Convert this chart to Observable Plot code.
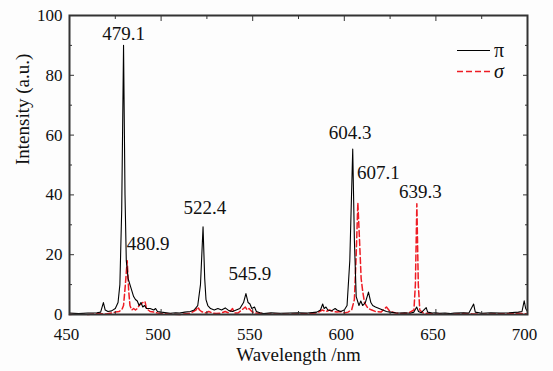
<!DOCTYPE html>
<html>
<head>
<meta charset="utf-8">
<script src="https://cdn.jsdelivr.net/npm/d3@7"></script>
<script src="https://cdn.jsdelivr.net/npm/@observablehq/plot@0.6"></script>
<style>
  html, body { margin: 0; padding: 0; background: #fdfdfd; }
  #wrap { position: relative; width: 553px; height: 371px; font-family: "Liberation Serif", "Times New Roman", Times, serif; }
  #legend { position: absolute; left: 450px; top: 38px; }
</style>
</head>
<body>
<div id="wrap"></div>
<script>
// π spectrum (wavelength nm, intensity a.u.)
const piWave = [450,455,460,465,467,468.5,469.5,471,473,475,476.5,477.5,478.5,479.5,480.3,481,482,483,484,485,486,487,488,489,490,491,492,494,496,497,498,500,503,505,508,510,513,516,518,520,521.5,522.9,523.8,524.5,525.5,527,529,531,533,535,537,539,541,543,545,546.3,547.5,548.5,549.5,551,552,554,556,560,565,570,575,580,585,587,588.2,589,590,591,593,595,596,598,600,601.5,603,604.6,605.5,606.5,608,609,610,611.5,613.2,614.5,615.5,617,619,621,623,625,628,630,633,636,638,639.5,640.5,642,644.7,645.5,648,650,652,655,658,660,665,668,670.6,671.5,675,680,685,690,695,697,698.2,699,700];
const piInt  = [0.5,0.3,0.5,0.6,0.8,4,1.5,1,1.2,2,4,10,35,90,40,18,12,10,8,6,5,4.5,3,4,2.5,3,2,2,1.5,2,1,0.8,0.6,0.4,0.6,0.5,0.8,1,1.5,3,10,29.3,12,5,3,2,1.5,2,1.5,2.2,1.3,1,1.5,2,4,7,4,3.5,2,2.5,1,0.6,0.3,0.6,0.4,0.5,0.6,0.5,0.8,1.5,3.5,2,2.5,1.5,1.2,2,1.5,1,1.5,3,18,55.3,25,6,3,4.5,3,4,7.5,4,3,2.5,2,1.5,1,0.8,0.6,0.5,0.6,0.4,0.8,2.5,1,0.6,2.3,0.8,0.5,0.6,0.4,0.5,0.3,0.5,0.6,0.5,3.5,0.8,0.4,0.6,0.5,0.6,0.8,1,4.6,2,1];

// σ spectrum
const sigWave = [450,455,460,465,470,473,475,477,478.5,479.5,480.5,481.5,482.3,483,484,485,486,487,488,489,490,491.2,492,493,494,496,498,500,505,510,515,517,519,520,521,522,524,526,528,530,533,535,537,539,540,542,544,546,547,548,549.5,551,555,560,570,580,585,588,590,592,594,596,598,600,602,604,605.5,606.5,607.4,608.3,609.2,610,611,612,613,615,617,620,623,625,628,632,635,638,638.8,639.6,640.4,641.2,643,646,650,655,660,665,670,675,680,690,695,700];
const sigInt  = [0,0.2,0,0.3,0.2,0.5,0.8,1,1.5,3,10,18,8,3,1.5,2,1.5,2,3,3.5,4,4.4,2,1.5,1,0.8,0.5,0.3,0.2,0,0.3,0.8,1.5,2.5,1.5,1,0.5,1,0.5,0.3,0.5,1,0.5,2,0.5,0.5,1.5,2.5,1.5,2,1,0.5,0.3,0.2,0.1,0.3,0.5,1.5,1,1.5,1,0.8,1,0.5,0.8,1.5,5,20,37.4,25,12,8,4,3,2,1.5,1,0.8,2.5,1,0.5,0.3,0.5,1.5,10,37,10,1.5,0.5,0.3,0.2,0.1,0.2,0.3,0.2,0.1,0.2,0.3,0.4,0.2];

// peak annotations
const midLabels = ["479.1","522.4","545.9","604.3","639.3"];
const midLabelX = [479.6,523.9,548.5,603.2,641.5];
const midLabelY = [94,35.6,13.5,60.7,41];
const startLabels = ["480.9","607.1"];
const startLabelX = [481.2,607.0];
const startLabelY = [23.5,47.4];

const xTicks = [450,500,550,600,650,700];
const xMinor = [475,525,575,625,675];
const yTicks = [0,20,40,60,80,100];
const yMinor = [10,30,50,70,90];
const xTitle = "Wavelength /nm";
const yTitle = "Intensity (a.u.)";
const seriesNames = ["π","σ"];

const piData = piWave.map((w,i)=>({w, v: piInt[i]}));
const sigData = sigWave.map((w,i)=>({w, v: sigInt[i]}));
const mid = midLabels.map((t,i)=>({t, x: midLabelX[i], y: midLabelY[i]}));
const start = startLabels.map((t,i)=>({t, x: startLabelX[i], y: startLabelY[i]}));

const font = "Liberation Serif, Times New Roman, Times, serif";
const chart = Plot.plot({
  width: 553, height: 371,
  marginLeft: 69, marginRight: 26, marginTop: 15, marginBottom: 57,
  style: {fontFamily: font, fontSize: "17px", background: "transparent", color: "#111"},
  x: {domain: [450,700]},
  y: {domain: [0,100]},
  marks: [
    Plot.line(sigData, {x: "w", y: "v", stroke: "#ee1c24", strokeWidth: 1.5, strokeDasharray: "6,3"}),
    Plot.line(piData, {x: "w", y: "v", stroke: "#000", strokeWidth: 1.1}),
    Plot.text(mid, {x: "x", y: "y", text: "t", fontSize: 19, textAnchor: "middle", fill: "#111", fontFamily: font}),
    Plot.text(start, {x: "x", y: "y", text: "t", fontSize: 19, textAnchor: "start", fill: "#111", fontFamily: font}),
    // tick marks (inward)
    Plot.axisX({anchor: "bottom", ticks: xTicks, tickSize: -5, text: null, label: null, stroke: "#333"}),
    Plot.axisX({anchor: "bottom", ticks: xMinor, tickSize: -3, text: null, label: null, stroke: "#333"}),
    Plot.axisX({anchor: "top", ticks: xTicks, tickSize: -5, text: null, label: null, stroke: "#333"}),
    Plot.axisX({anchor: "top", ticks: xMinor, tickSize: -3, text: null, label: null, stroke: "#333"}),
    Plot.axisY({anchor: "left", ticks: yTicks, tickSize: -5, text: null, label: null, stroke: "#333"}),
    Plot.axisY({anchor: "left", ticks: yMinor, tickSize: -3, text: null, label: null, stroke: "#333"}),
    Plot.axisY({anchor: "right", ticks: yTicks, tickSize: -5, text: null, label: null, stroke: "#333"}),
    Plot.axisY({anchor: "right", ticks: yMinor, tickSize: -3, text: null, label: null, stroke: "#333"}),
    // tick labels
    Plot.axisX({anchor: "bottom", ticks: xTicks, tickSize: 0, tickPadding: 13, dx: -3, label: null, tickFormat: d => String(d), fill: "#111", fontFamily: font}),
    Plot.axisY({anchor: "left", ticks: yTicks, tickSize: 0, tickPadding: 7, label: null, tickFormat: d => String(d), fill: "#111", fontFamily: font}),
    // axis titles
    Plot.text([xTitle], {frameAnchor: "bottom", dy: 46, text: d => d, fontSize: 19, fill: "#111", fontFamily: font}),
    Plot.text([yTitle], {frameAnchor: "left", dx: -47, rotate: -90, text: d => d, fontSize: 19, fill: "#111", fontFamily: font}),
    Plot.frame({stroke: "#333", strokeWidth: 2})
  ]
});
const wrap = document.getElementById("wrap");
wrap.appendChild(chart);

// legend (SVG overlay)
const ns = "http://www.w3.org/2000/svg";
const lg = document.createElementNS(ns, "svg");
lg.setAttribute("id", "legend");
lg.setAttribute("width", "70");
lg.setAttribute("height", "46");
const styles = [{stroke: "#000", dash: null, w: 1.2, italic: false}, {stroke: "#ee1c24", dash: "6,3", w: 1.5, italic: true}];
seriesNames.forEach((name, i) => {
  const y = 12.5 + i * 21;
  const ln = document.createElementNS(ns, "line");
  ln.setAttribute("x1", 7); ln.setAttribute("x2", 40);
  ln.setAttribute("y1", y); ln.setAttribute("y2", y);
  ln.setAttribute("stroke", styles[i].stroke);
  ln.setAttribute("stroke-width", styles[i].w);
  if (styles[i].dash) ln.setAttribute("stroke-dasharray", styles[i].dash);
  lg.appendChild(ln);
  const tx = document.createElementNS(ns, "text");
  tx.setAttribute("x", 44); tx.setAttribute("y", y);
  tx.setAttribute("dy", "0.32em");
  tx.setAttribute("font-family", font);
  tx.setAttribute("font-size", "20");
  if (styles[i].italic) tx.setAttribute("font-style", "italic");
  tx.setAttribute("fill", "#111");
  tx.textContent = name;
  lg.appendChild(tx);
});
wrap.appendChild(lg);
</script>
</body>
</html>
